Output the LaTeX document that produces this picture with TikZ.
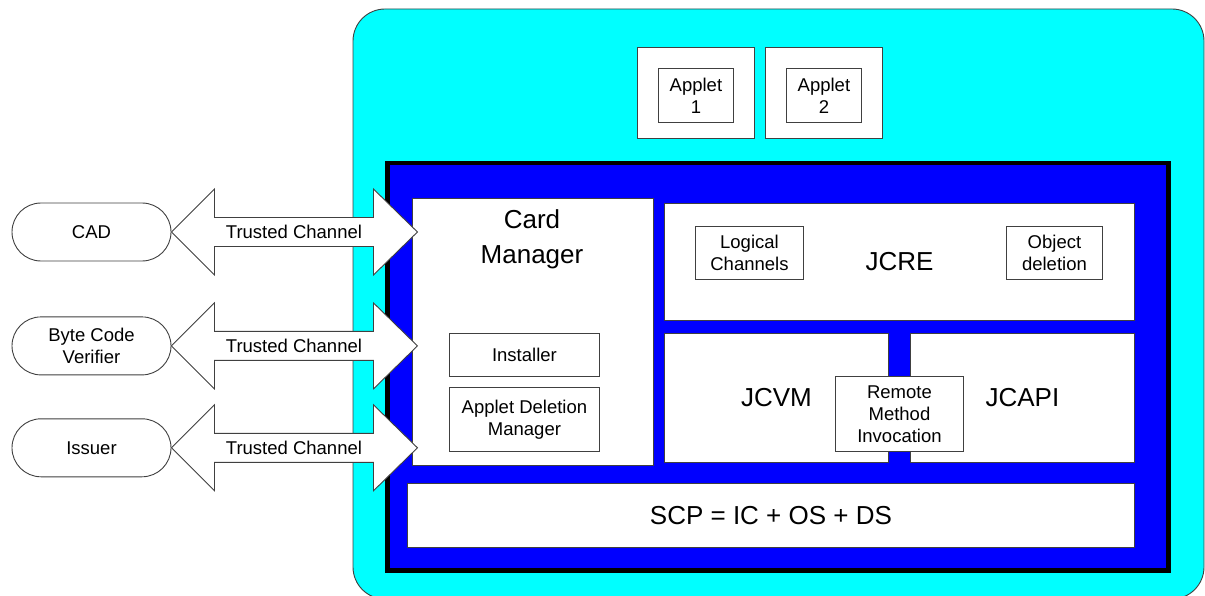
\documentclass[tikz,border=0pt]{standalone}
\usepackage{fontspec}
\setmainfont{Liberation Sans}
\usetikzlibrary{positioning, shapes.misc}

\definecolor{cardcyan}{RGB}{0,255,255}
\definecolor{jcblue}{RGB}{0,0,255}
\definecolor{edgegray}{RGB}{64,64,64}

\tikzset{
    small/.style={font=\fontsize{18.5}{22}\selectfont, align=center},
    big/.style={font=\fontsize{26}{35}\selectfont, align=center},
    block/.style={draw=edgegray, line width=0.9pt, fill=white, inner sep=0pt, anchor=north west},
    terminal/.style={rounded rectangle, draw=edgegray, line width=0.9pt, fill=white, inner sep=0pt,
        minimum width=159pt, minimum height=58pt, small},
    channel/.style={draw=edgegray, line width=0.9pt, fill=white, line join=miter}
}

\begin{document}
\begin{tikzpicture}[x=1pt, y=-1pt, node distance=1cm]
    \useasboundingbox (0,0) rectangle (1205,596);

        \draw[draw=edgegray, line width=0.9pt, fill=cardcyan, rounded corners=32pt] (353,9) rectangle (1204,599);

        \node[block, minimum width=117pt, minimum height=91pt] (applet1) at (637,47) {};
        \node[block, small, anchor=center, minimum width=75pt, minimum height=54pt] (applet1_in) at ([yshift=-2.5pt]applet1.center) {Applet\\1};
        \node[block, minimum width=117pt, minimum height=91pt] (applet2) at (765,47) {};
        \node[block, small, anchor=center, minimum width=75pt, minimum height=54pt] (applet2_in) at ([yshift=-2.5pt]applet2.center) {Applet\\2};

        \node[draw=black, line width=4.5pt, fill=jcblue, inner sep=0pt, anchor=north west,
            minimum width=781pt, minimum height=407pt] (runtime) at (385,161) {};

        \node[block, minimum width=241pt, minimum height=267pt] (card_mgr) at (412,198) {};
        \node[big, anchor=north, inner sep=0pt] (card_mgr_title) at (532,209) {Card\\Manager};
        \node[block, small, minimum width=150pt, minimum height=43pt] (installer) at (449,333) {Installer};
        \node[block, small, minimum width=150pt, minimum height=64pt] (deletion_mgr) at (449,387) {Applet Deletion\\Manager};

        \node[block, big, minimum width=470pt, minimum height=117pt] (jcre) at (664,203) {JCRE};
        \node[block, small, minimum width=108pt, minimum height=53pt] (logical) at (695,226) {Logical\\Channels};
        \node[block, small, minimum width=96pt, minimum height=53pt] (obj_del) at (1006,226) {Object\\deletion};

        \node[block, big, minimum width=224pt, minimum height=129pt] (jcvm) at (664,333) {JCVM};
        \node[block, big, minimum width=224pt, minimum height=129pt] (jcapi) at (910,333) {JCAPI};
        \node[block, small, minimum width=128pt, minimum height=75pt] (rmi) at (835,376) {Remote\\Method\\Invocation};

        \node[block, big, minimum width=727pt, minimum height=64pt] (scp) at (407,483) {SCP = IC + OS + DS};

        \node[terminal] (cad) at (91.5,232) {CAD};
        \node[terminal] (verifier) [below = 55pt of cad] {Byte Code\\Verifier};
        \node[terminal] (issuer) [below = 43pt of verifier] {Issuer};

        \foreach \src in {cad, verifier, issuer} {
            \draw[channel] (\src.east) -- ++(43,-43) -- ++(0,28.5) -- ++(159,0) -- ++(0,-28.5)
                -- ++(44,43) -- ++(-44,43) -- ++(0,-28.5) -- ++(-159,0) -- ++(0,28.5) -- cycle;
            \path (\src.east) ++(122.5,0) node[small] {Trusted Channel};
        }

    \end{tikzpicture}
\end{document}
